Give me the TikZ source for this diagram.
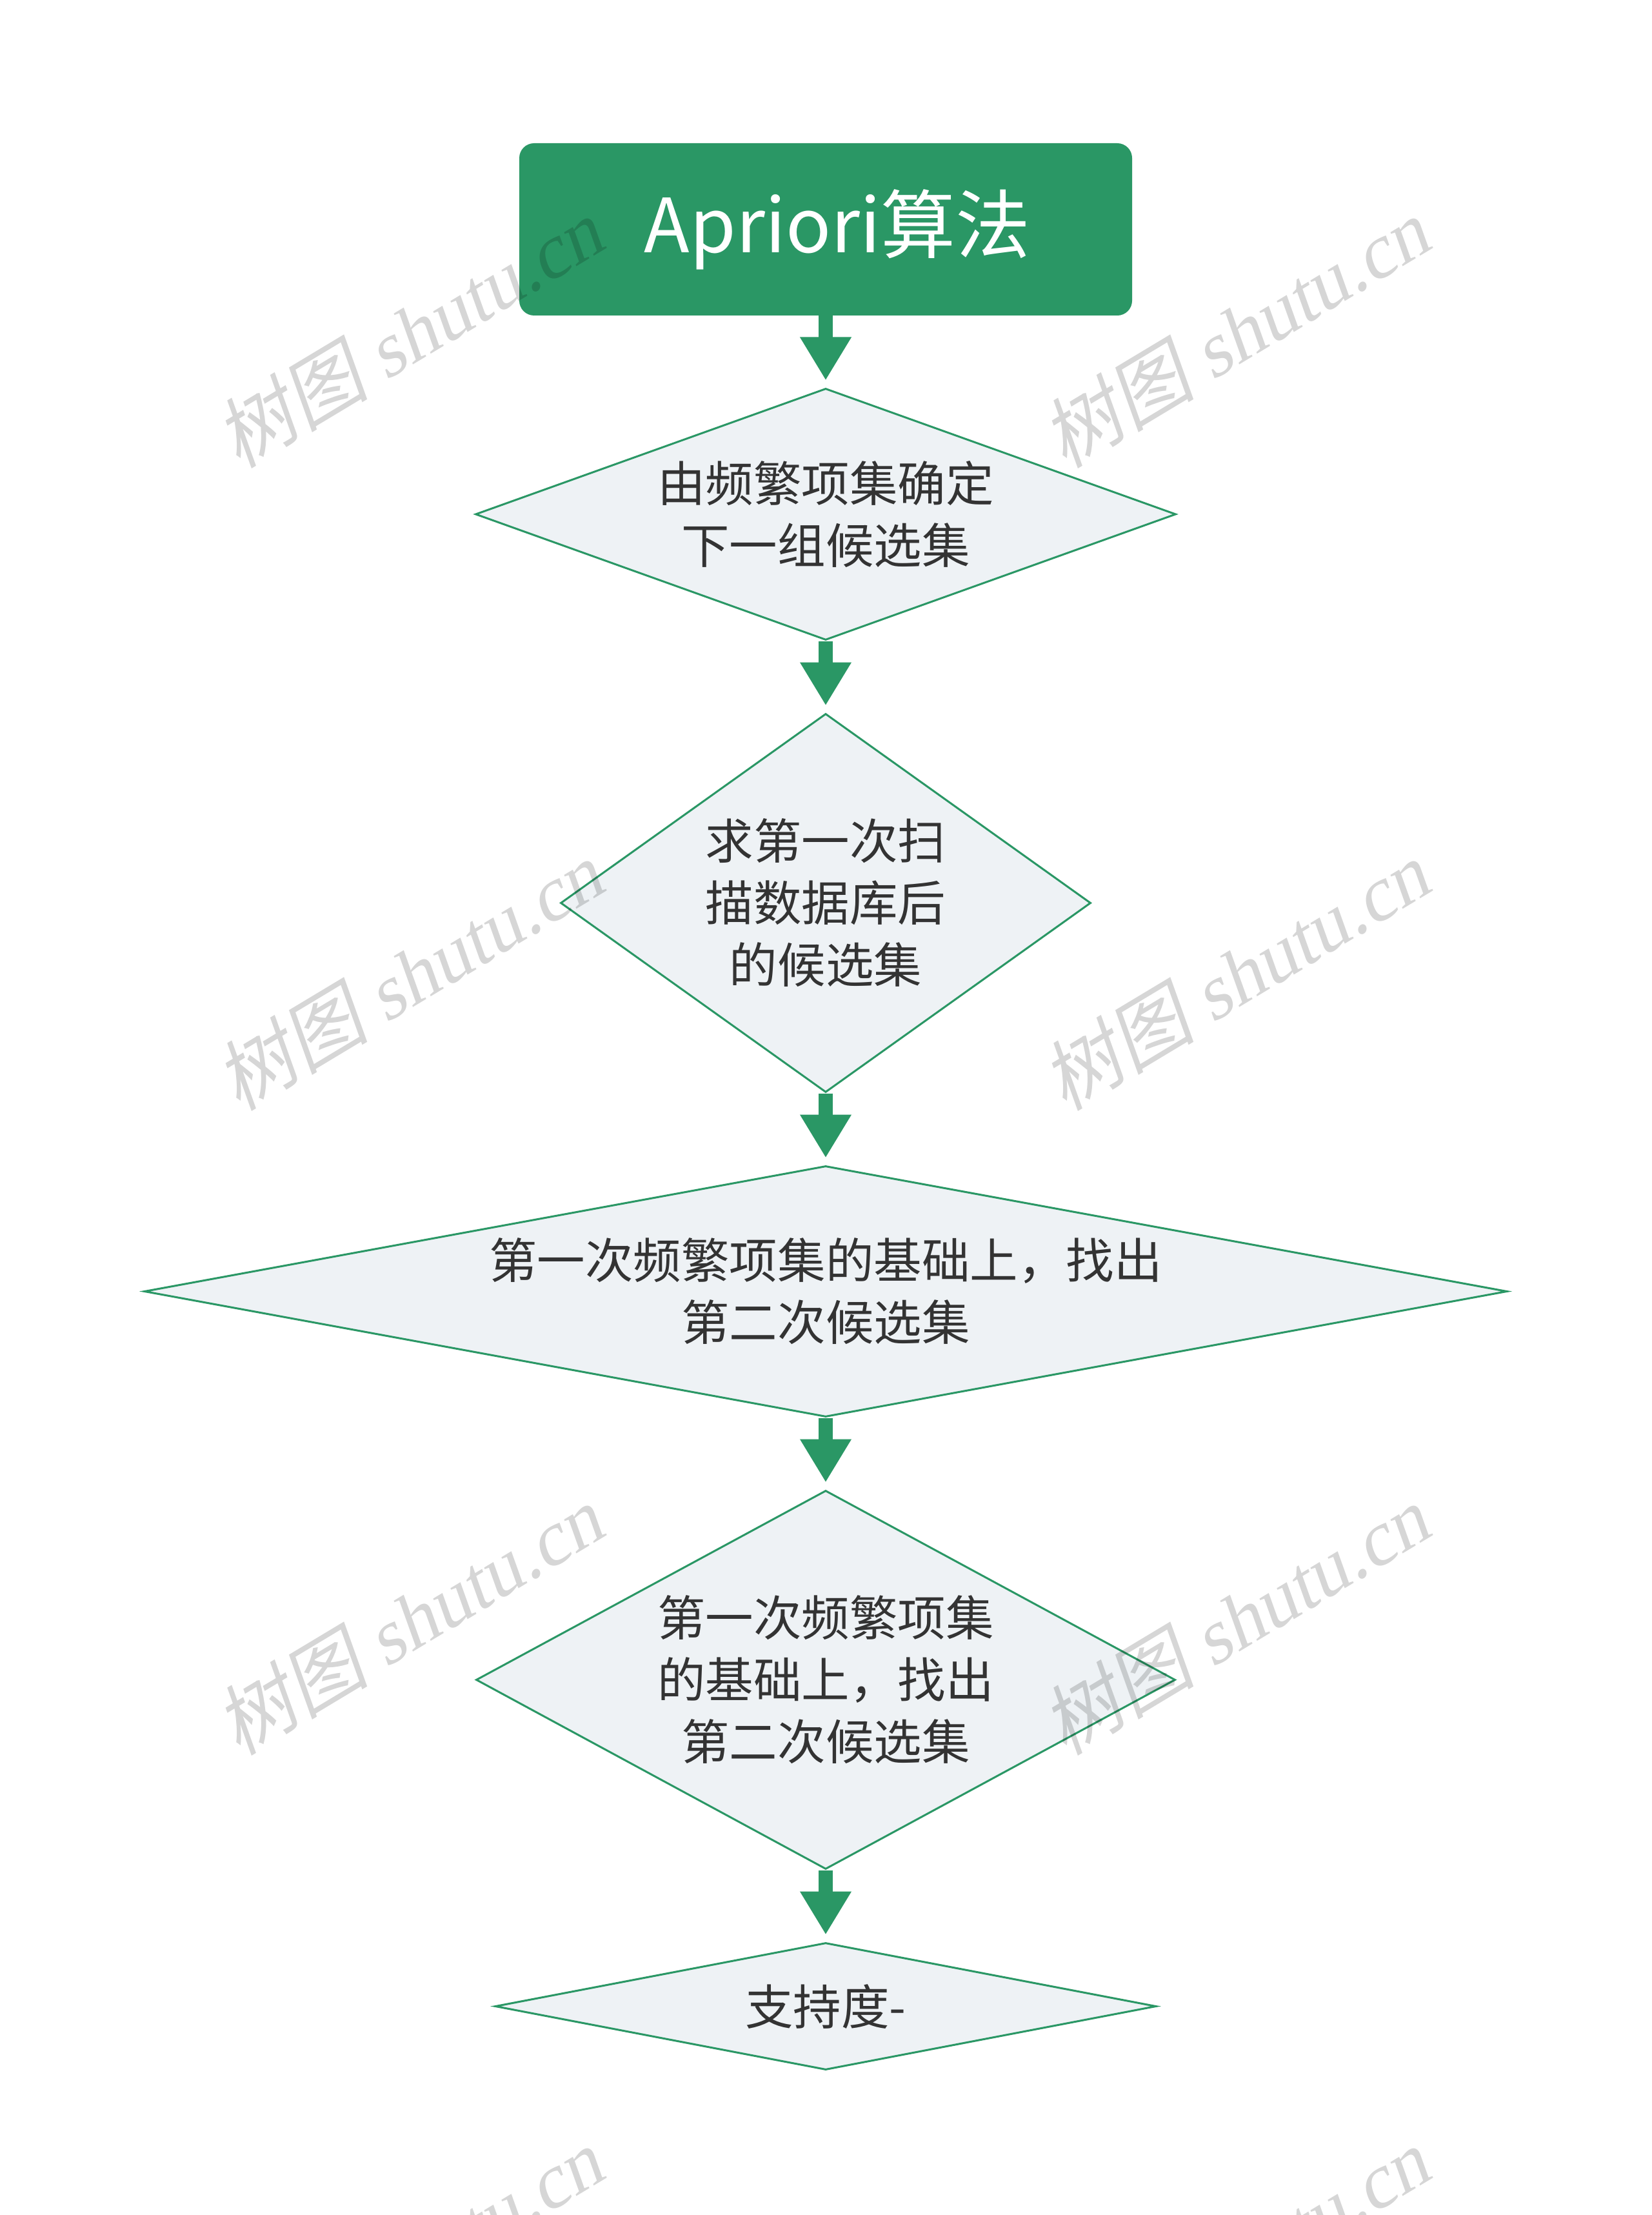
\documentclass[tikz,border=0pt]{standalone}
\usepackage{fontspec}
\setmainfont{Noto Sans CJK SC}
\newfontfamily\wmcjk[FakeSlant=0.2]{Noto Sans CJK SC}
\newfontfamily\wmlat[FakeSlant=0.2]{Liberation Serif}
\usetikzlibrary{shapes.geometric,arrows.meta}
\definecolor{brand}{RGB}{42,151,101}
\definecolor{dfill}{RGB}{238,242,245}
\definecolor{txt}{RGB}{51,51,51}
\tikzset{
  titlebox/.style={rectangle, rounded corners=0.22cm, fill=brand, draw=brand, line width=0.02cm,
    minimum width=9.48cm, minimum height=2.65cm, inner sep=0pt, text=white,
    font={\fontsize{33pt}{40pt}\selectfont}},
  flowdiamond/.style={diamond, draw=brand, line width=0.03cm, fill=dfill, inner sep=0pt,
    text=txt, align=center, font={\fontsize{21.2pt}{27.3pt}\selectfont}},
  flowarrow/.style={draw=brand, line width=0.22cm, -{Triangle[width=0.75cm,length=0.67cm]},
    shorten >=0.11cm},
  wmark/.style={text=black, text opacity=0.16, rotate=31, inner sep=0pt,
    font={\fontsize{34pt}{40pt}\selectfont}}
}
\begin{document}
\begin{tikzpicture}
\useasboundingbox (0,0) rectangle (25.6,-34.33);
\clip (0,0) rectangle (25.6,-34.33);
\fill[white] (0,0) rectangle (25.6,-34.33);

\node[titlebox] (top) at (12.8,-3.555) {\hspace{0.36cm}Apriori算法};

\node[flowdiamond, minimum width=10.86cm, minimum height=3.90cm, shape aspect=2.78]
  (d1) at (12.8,-7.97) {由频繁项集确定\\下一组候选集};
\node[flowdiamond, minimum width=8.22cm, minimum height=5.87cm, shape aspect=1.40]
  (d2) at (12.8,-13.995) {求第一次扫\\描数据库后\\的候选集};
\node[flowdiamond, minimum width=21.13cm, minimum height=3.89cm, shape aspect=5.43]
  (d3) at (12.8,-20.015) {第一次频繁项集的基础上，找出\\第二次候选集};
\node[flowdiamond, minimum width=10.84cm, minimum height=5.87cm, shape aspect=1.85]
  (d4) at (12.8,-26.035) {第一次频繁项集\\的基础上，找出\\第二次候选集};
\node[flowdiamond, minimum width=10.25cm, minimum height=1.97cm, shape aspect=5.2]
  (d5) at (12.8,-31.095) {支持度-};

\draw[flowarrow] (top.south) -- (d1.north);
\draw[flowarrow] (d1.south) -- (d2.north);
\draw[flowarrow] (d2.south) -- (d3.north);
\draw[flowarrow] (d3.south) -- (d4.north);
\draw[flowarrow] (d4.south) -- (d5.north);

\node[wmark] (wm1) at (6.33,-5.17) {{\wmcjk 树图} {\wmlat shutu.cn}};
\node[wmark] (wm2) at (19.14,-5.17) {{\wmcjk 树图} {\wmlat shutu.cn}};
\node[wmark] (wm3) at (6.33,-15.13) {{\wmcjk 树图} {\wmlat shutu.cn}};
\node[wmark] (wm4) at (19.14,-15.13) {{\wmcjk 树图} {\wmlat shutu.cn}};
\node[wmark] (wm5) at (6.33,-25.12) {{\wmcjk 树图} {\wmlat shutu.cn}};
\node[wmark] (wm6) at (19.14,-25.12) {{\wmcjk 树图} {\wmlat shutu.cn}};
\node[wmark] (wm7) at (6.33,-35.08) {{\wmcjk 树图} {\wmlat shutu.cn}};
\node[wmark] (wm8) at (19.14,-35.08) {{\wmcjk 树图} {\wmlat shutu.cn}};
\end{tikzpicture}
\end{document}
